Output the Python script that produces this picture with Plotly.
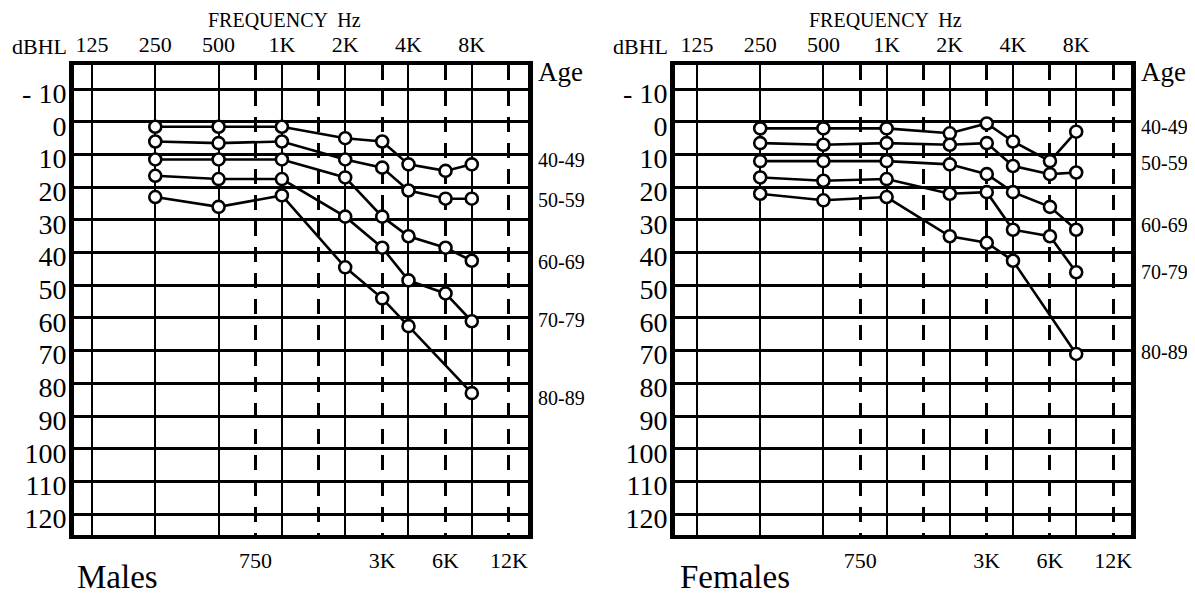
import plotly.graph_objects as go

# ---------------- data ----------------
freqs = [250, 500, 1000, 2000, 3000, 4000, 6000, 8000]
age_groups = ["40-49", "50-59", "60-69", "70-79", "80-89"]

males_40_49 = [1.5, 1.5, 1.5, 5, 6, 13, 15, 13]
males_50_59 = [6, 6.5, 6, 11.5, 14, 21, 23.5, 23.5]
males_60_69 = [11.5, 11.5, 11.5, 17, 29, 35, 38.5, 42.5]
males_70_79 = [16.5, 17.5, 17.5, 29, 38.5, 48.5, 52.5, 61]
males_80_89 = [23, 26, 22.5, 44.5, 54, 62.5, None, 83]

females_40_49 = [2, 2, 2, 3.5, 0.5, 6, 12, 3]
females_50_59 = [6.5, 7, 6.5, 7, 6.5, 13.5, 16, 15.5]
females_60_69 = [12, 12, 12, 13, 16, 21.5, 26, 33]
females_70_79 = [17, 18, 17.5, 22, 21.5, 33, 35, 46]
females_80_89 = [22, 24, 23, 35, 37, 42.5, None, 71]

male_label_pos = [11.6, 23.9, 42.9, 60.6, 84.5]
female_label_pos = [1.5, 12.5, 31.5, 45.9, 70.4]

top_tick_vals = [125, 250, 500, 1000, 2000, 4000, 8000]
top_tick_text = ["125", "250", "500", "1K", "2K", "4K", "8K"]
bot_tick_vals = [750, 1500, 3000, 6000, 12000]
bot_tick_text = ["750", "", "3K", "6K", "12K"]
db_vals = list(range(-10, 130, 10))
db_text = ["- 10"] + [str(v) for v in db_vals[1:]]

males = [males_40_49, males_50_59, males_60_69, males_70_79, males_80_89]
females = [females_40_49, females_50_59, females_60_69, females_70_79, females_80_89]

# ---------------- layout geometry ----------------
OFF = 8  # default page body margin
W, H = 1195 - OFF, 598 - OFF
FONT = "Liberation Serif"

def px(x):
    return (x - OFF) / W

def py(y):
    return 1 - (y - OFF) / H

y_dom = [py(535), py(65)]
left_dom = [px(74), px(528)]
right_dom = [px(675), px(1131)]
left_range = [2.0114, 4.1704]
right_range = [1.9921, 4.1641]
y_range = [126.4, -17.4]

fig = go.Figure()

def add_panel(data, xa, ya):
    for vals, name in zip(data, age_groups):
        fig.add_trace(go.Scatter(
            x=freqs, y=vals, name=name, xaxis=xa, yaxis=ya,
            mode="lines+markers", connectgaps=True,
            line=dict(color="black", width=2.6),
            marker=dict(symbol="circle", size=12, color="white",
                        line=dict(color="black", width=2.6)),
            showlegend=False, hoverinfo="x+y+name",
        ))

add_panel(males, "x", "y")
add_panel(females, "x2", "y2")
# dummy traces to activate the overlay (bottom) axes
fig.add_trace(go.Scatter(x=[750], y=[None], xaxis="x3", yaxis="y", showlegend=False, hoverinfo="skip"))
fig.add_trace(go.Scatter(x=[750], y=[None], xaxis="x4", yaxis="y2", showlegend=False, hoverinfo="skip"))

def top_axis(dom, rng, anchor):
    return dict(
        type="log", domain=dom, range=rng, anchor=anchor, side="top",
        tickmode="array", tickvals=top_tick_vals, ticktext=top_tick_text,
        tickfont=dict(family=FONT, size=22, color="black"),
        ticks="", ticklabelstandoff=0,
        showgrid=True, gridcolor="black", gridwidth=2.2,
        showline=True, linecolor="black", linewidth=4, mirror=True,
        zeroline=False, automargin=False, fixedrange=True,
    )

def bottom_axis(rng, over):
    return dict(
        type="log", range=rng, overlaying=over, side="bottom",
        tickmode="array", tickvals=bot_tick_vals, ticktext=bot_tick_text,
        tickfont=dict(family=FONT, size=22, color="black"),
        ticks="", ticklabelstandoff=10,
        showgrid=True, gridcolor="black", gridwidth=3, griddash="15px,11px",
        showline=False, zeroline=False, automargin=False, fixedrange=True,
    )

def y_axis(anchor):
    return dict(
        domain=y_dom, range=y_range, anchor=anchor,
        tickmode="array", tickvals=db_vals, ticktext=db_text,
        tickfont=dict(family=FONT, size=28, color="black"),
        ticks="", ticklabelstandoff=-3, ticklabelshift=-4,
        showgrid=True, gridcolor="black", gridwidth=2.8,
        showline=True, linecolor="black", linewidth=5, mirror=True,
        zeroline=False, automargin=False, fixedrange=True,
    )

fig.update_layout(
    width=W, height=H,
    margin=dict(l=0, r=0, t=0, b=0),
    paper_bgcolor="white", plot_bgcolor="white",
    font=dict(family=FONT, color="black"),
    xaxis=top_axis(left_dom, left_range, "y"),
    xaxis2=top_axis(right_dom, right_range, "y2"),
    xaxis3=bottom_axis(left_range, "x"),
    xaxis4=bottom_axis(right_range, "x2"),
    yaxis=y_axis("x"),
    yaxis2=y_axis("x2"),
)

annotations = []
for x0, title, title_x, lab_pos, xr, yr in [
    (68, "Males", 75, male_label_pos, "x", "y"),
    (669, "Females", 678, female_label_pos, "x2", "y2"),
]:
    dom_w = 454 if xr == "x" else 456
    annotations += [
        dict(text="FREQUENCY  Hz", x=px(x0 + 216), y=py(20), xref="paper", yref="paper",
             xanchor="center", yanchor="middle", showarrow=False, font=dict(size=20, family=FONT)),
        dict(text="dBHL", x=px(x0 + 1), y=py(47), xref="paper", yref="paper",
             xanchor="right", yanchor="middle", showarrow=False, font=dict(size=22, family=FONT)),
        dict(text="Age", x=1 + 8 / dom_w, y=py(72), xref=f"{xr} domain", yref="paper",
             xanchor="left", yanchor="middle", showarrow=False, font=dict(size=27, family=FONT)),
        dict(text=title, x=px(title_x), y=py(577), xref="paper", yref="paper",
             xanchor="left", yanchor="middle", showarrow=False, font=dict(size=33, family=FONT)),
    ]
    for lab, yv in zip(age_groups, lab_pos):
        annotations.append(dict(text=lab, x=1 + 8 / dom_w, y=yv, xref=f"{xr} domain", yref=yr,
                                xanchor="left", yanchor="middle", showarrow=False,
                                font=dict(size=20, family=FONT)))

fig.update_layout(annotations=annotations)
fig.write_html("out.html")
